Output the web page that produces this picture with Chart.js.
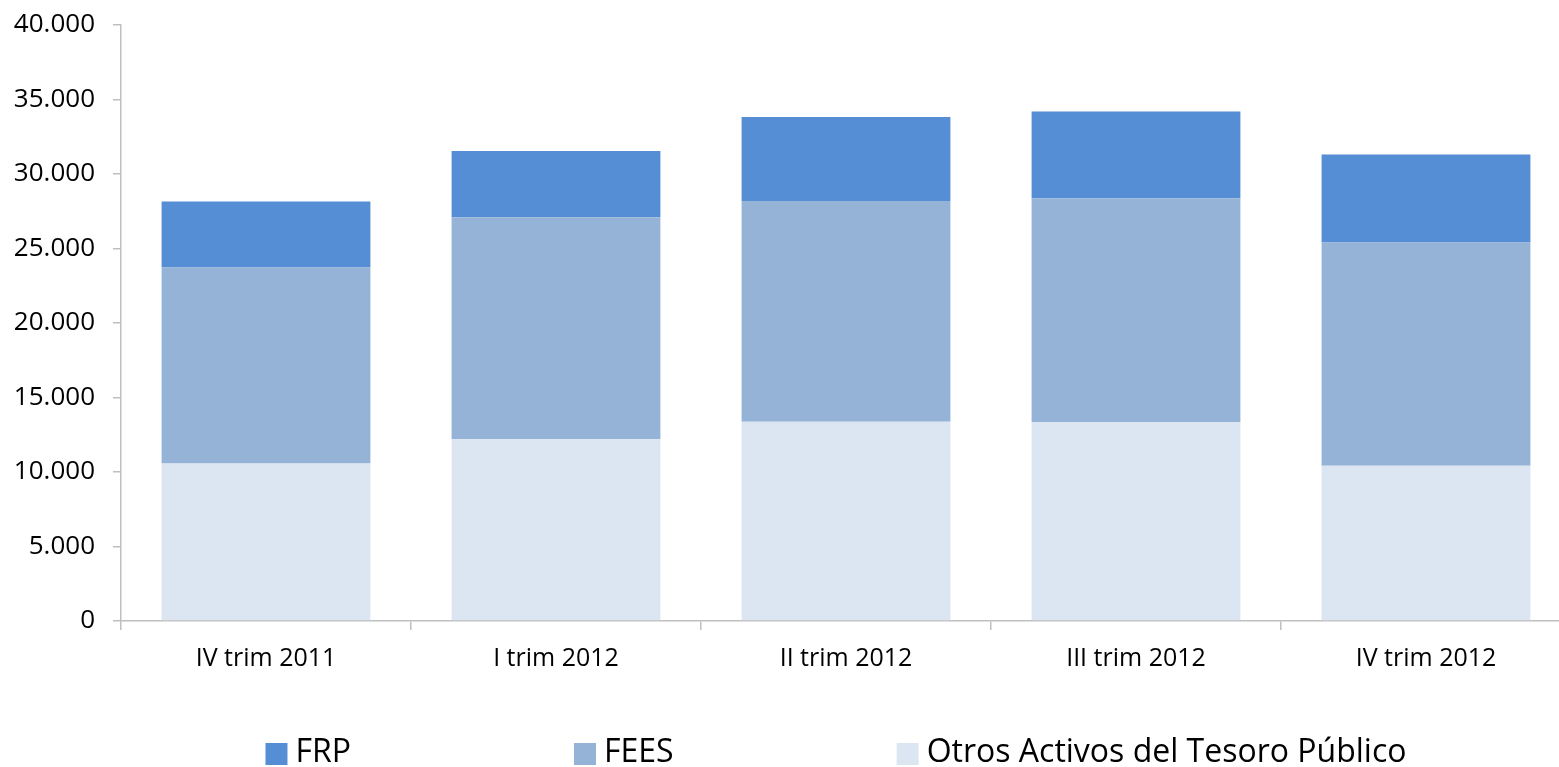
<!DOCTYPE html>
<html>
<head>
<meta charset="utf-8">
<title>Activos del Tesoro Público</title>
<script src="https://cdn.jsdelivr.net/npm/chart.js@4.4.1/dist/chart.umd.min.js"></script>
<style>
    html, body {
        margin: 0;
        padding: 0;
        background: #ffffff;
        overflow: hidden;
    }
    #wrap {
        width: 1559px;
        height: 767px;
        overflow: hidden;
    }
    #activosChart {
        display: block;
    }
</style>
</head>
<body>
<div id="wrap">
    <canvas id="activosChart" width="1580" height="767"></canvas>
</div>
<script>
// Data
const categories = ['IV trim 2011', 'I trim 2012', 'II trim 2012', 'III trim 2012', 'IV trim 2012'];
const otrosActivos = [10570, 12190, 13380, 13360, 10420];
const fees = [13160, 14900, 14810, 15010, 14990];
const frp = [4420, 4460, 5630, 5830, 5900];
const yTicks = [0, 5000, 10000, 15000, 20000, 25000, 30000, 35000, 40000];

const FONT = "'Open Sans', 'DejaVu Sans', sans-serif";

/**
 * Utility: thousands separator with a dot
 */
function formatNumber(num) {
    return num.toString().replace(/\B(?=(\d{3})+(?!\d))/g, '.');
}

/**
 * Legend drawn under the chart, items in reverse stacking order
 */
const bottomLegend = {
    id: 'bottomLegend',
    afterDraw(chart) {
        const ctx = chart.ctx;
        const items = chart.data.datasets.slice().reverse();
        const box = 22;
        const textGap = 8;
        const itemGap = 223;
        const cy = 753;

        ctx.save();
        ctx.font = '32px ' + FONT;
        ctx.textBaseline = 'middle';
        ctx.textAlign = 'left';

        let total = 0;
        const widths = items.map(ds => {
            const w = box + textGap + ctx.measureText(ds.label).width;
            total += w;
            return w;
        });
        total += itemGap * (items.length - 1);

        let x = 836 - total / 2;
        items.forEach((ds, i) => {
            ctx.fillStyle = ds.backgroundColor;
            ctx.fillRect(x, cy - box / 2 + 1, box, box);
            ctx.fillStyle = '#000000';
            ctx.fillText(ds.label, x + box + textGap, cy);
            x += widths[i] + itemGap;
        });
        ctx.restore();
    }
};

document.addEventListener('DOMContentLoaded', function() {
    const ctx = document.getElementById('activosChart').getContext('2d');

    new Chart(ctx, {
        type: 'bar',
        data: {
            labels: categories,
            datasets: [
                {
                    label: 'Otros Activos del Tesoro Público',
                    data: otrosActivos,
                    backgroundColor: '#DCE6F2'
                },
                {
                    label: 'FEES',
                    data: fees,
                    backgroundColor: '#95B3D7'
                },
                {
                    label: 'FRP',
                    data: frp,
                    backgroundColor: '#558ED5'
                }
            ]
        },
        options: {
            responsive: false,
            animation: false,
            layout: {
                padding: { top: 25, right: 9, bottom: 79, left: 0 }
            },
            datasets: {
                bar: {
                    categoryPercentage: 1.0,
                    barPercentage: 0.72,
                    borderWidth: 0
                }
            },
            plugins: {
                legend: { display: false },
                tooltip: { enabled: false }
            },
            scales: {
                x: {
                    stacked: true,
                    border: { color: '#BFBFBF', width: 1.5 },
                    grid: {
                        offset: true,
                        drawOnChartArea: false,
                        drawTicks: true,
                        tickLength: 9,
                        tickColor: '#BFBFBF',
                        lineWidth: 1.5
                    },
                    ticks: {
                        color: '#000000',
                        padding: 14,
                        maxRotation: 0,
                        font: { family: FONT, size: 25 }
                    }
                },
                y: {
                    stacked: true,
                    min: 0,
                    max: 40000,
                    afterFit: function(scale) {
                        scale.width = 121;
                        scale.paddingTop = 0;
                        scale.paddingBottom = 0;
                    },
                    afterBuildTicks: function(scale) {
                        scale.ticks = yTicks.map(v => ({ value: v }));
                    },
                    border: { color: '#BFBFBF', width: 1.5 },
                    grid: {
                        drawOnChartArea: false,
                        drawTicks: true,
                        tickLength: 8,
                        tickColor: '#BFBFBF',
                        lineWidth: 1.5
                    },
                    ticks: {
                        color: '#000000',
                        padding: 18,
                        font: { family: FONT, size: 26 },
                        callback: function(value) {
                            return formatNumber(value);
                        }
                    }
                }
            }
        },
        plugins: [bottomLegend]
    });
});
</script>
</body>
</html>
